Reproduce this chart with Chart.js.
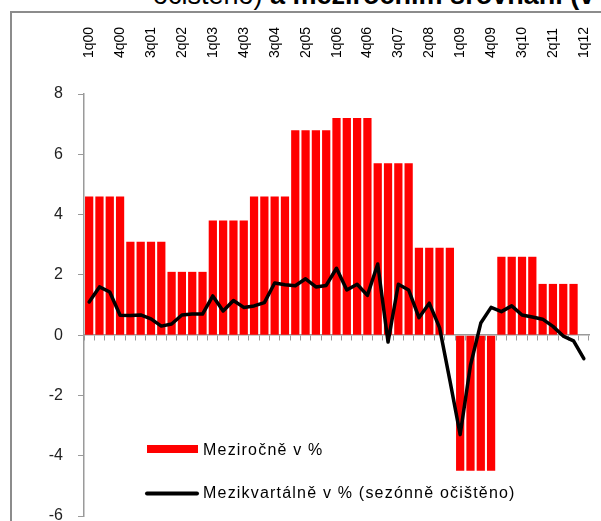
<!DOCTYPE html>
<html>
<head>
<meta charset="utf-8">
<script src="https://cdn.jsdelivr.net/npm/chart.js@4.4.1/dist/chart.umd.min.js"></script>
<style>
    html, body { margin: 0; padding: 0; background: #fff; overflow: hidden; width: 601px; height: 521px; }
    #ramecek { position: absolute; left: 10px; top: 11px; width: 700px; height: 600px; border: 2px solid #8c8c8c; }
    #nadpis { position: absolute; left: 153px; top: -18px; white-space: nowrap; font-family: "Liberation Sans", Arial, sans-serif; font-size: 27px; line-height: 27px; color: #000; }
    #nadpis b { font-weight: bold; }
    #graf { position: absolute; left: 0; top: 0; }
</style>
</head>
<body>
<div id="nadpis">očištěno) <b>a meziročním srovnání (v</b></div>
<div id="ramecek"></div>
<canvas id="graf" width="601" height="530"></canvas>
<script>
// ctvrtleti 1q00 .. 1q12
var ctvrtleti = [];
for (var rok = 0; rok <= 12; rok++) {
    for (var q = 1; q <= 4; q++) {
        if (rok == 12 && q > 1) break;
        ctvrtleti.push(q + 'q' + (rok < 10 ? '0' + rok : rok));
    }
}

// mezirocne v % (rocni hodnota u kazdeho ctvrtleti)
var mezirocne = [
    4.6, 4.6, 4.6, 4.6,
    3.1, 3.1, 3.1, 3.1,
    2.1, 2.1, 2.1, 2.1,
    3.8, 3.8, 3.8, 3.8,
    4.6, 4.6, 4.6, 4.6,
    6.8, 6.8, 6.8, 6.8,
    7.2, 7.2, 7.2, 7.2,
    5.7, 5.7, 5.7, 5.7,
    2.9, 2.9, 2.9, 2.9,
    -4.5, -4.5, -4.5, -4.5,
    2.6, 2.6, 2.6, 2.6,
    1.7, 1.7, 1.7, 1.7,
    null
];

// mezikvartalne v % (sezonne ocisteno)
var mezikvartalne = [
    1.1, 1.6, 1.43, 0.66,
    0.65, 0.67, 0.54, 0.3,
    0.37, 0.67, 0.7, 0.7,
    1.3, 0.8, 1.15, 0.92,
    0.97, 1.08, 1.73, 1.67,
    1.64, 1.87, 1.6, 1.65,
    2.22, 1.5, 1.69, 1.32,
    2.36, -0.23, 1.69, 1.5,
    0.58, 1.06, 0.25, -1.5,
    -3.3, -1.0, 0.4, 0.92,
    0.78, 0.97, 0.67, 0.6,
    0.53, 0.29, -0.03, -0.19,
    -0.78
];

var osaY = [-6, -4, -2, 0, 2, 4, 6, 8];
var popisky = ['Meziročně v %', 'Mezikvartálně v % (sezónně očištěno)'];

var pismo = '"Liberation Sans", Arial, sans-serif';
var seda = '#9a9a9a';

// osy nemaji pridavat vlastni okraje, plocha grafu se ridi jen layout.padding
function bezOkraju(scale) {
    scale.paddingLeft = 0;
    scale.paddingRight = 0;
    scale.paddingTop = 0;
    scale.paddingBottom = 0;
}

// legenda uvnitr grafu vlevo dole
var legendaPlugin = {
    id: 'legendaVnitrni',
    afterDraw: function (chart) {
        var ctx = chart.ctx;
        ctx.save();
        ctx.font = '16px ' + pismo;
        ctx.textBaseline = 'middle';
        ctx.textAlign = 'left';
        if ('letterSpacing' in ctx) ctx.letterSpacing = '1.2px';
        // cervena znacka
        ctx.fillStyle = '#ff0000';
        ctx.fillRect(147, 445, 51, 8);
        ctx.fillStyle = '#000';
        ctx.fillText(popisky[0], 203, 451);
        // cara
        ctx.strokeStyle = '#000';
        ctx.lineWidth = 4;
        ctx.lineCap = 'round';
        ctx.beginPath();
        ctx.moveTo(147, 493.5);
        ctx.lineTo(197, 493.5);
        ctx.stroke();
        ctx.fillText(popisky[1], 203, 494);
        ctx.restore();
    }
};

var ctx = document.getElementById('graf').getContext('2d');
var myChart = new Chart(ctx, {
    type: 'bar',
    data: {
        labels: ctvrtleti,
        datasets: [{
                type: 'line',
                label: popisky[1],
                data: mezikvartalne,
                borderColor: '#000',
                borderWidth: 3.5,
                pointRadius: 0,
                tension: 0,
                borderJoinStyle: 'round',
                borderCapStyle: 'round',
                order: 0
            }, {
                label: popisky[0],
                data: mezirocne,
                backgroundColor: '#ff0000',
                barPercentage: 0.8,
                categoryPercentage: 1,
                order: 1
            }]
    },
    options: {
        responsive: false,
        animation: false,
        layout: {padding: {left: 0, top: 0, right: 12, bottom: 14}},
        plugins: {
            legend: {display: false},
            tooltip: {enabled: false}
        },
        scales: {
            x: {
                position: 'top',
                offset: true,
                grid: {display: false, offset: true},
                border: {display: false},
                ticks: {
                    autoSkip: false,
                    maxRotation: 90,
                    minRotation: 90,
                    padding: 28,
                    labelOffset: 17,
                    color: '#000',
                    font: {family: pismo, size: 14},
                    callback: function (value, index) {
                        return index % 3 == 0 ? ctvrtleti[index] : '';
                    }
                },
                afterFit: function (scale) {
                    scale.height = 94;
                    bezOkraju(scale);
                }
            },
            x2: {
                type: 'category',
                position: {y: 0},
                offset: true,
                grid: {display: true, offset: true, drawOnChartArea: false, drawTicks: true, tickLength: 5, color: seda},
                border: {display: true, color: seda, width: 1.5},
                ticks: {display: false},
                afterFit: bezOkraju
            },
            y: {
                min: -6,
                max: 8,
                afterBuildTicks: function (scale) {
                    scale.ticks = osaY.map(function (v) { return {value: v}; });
                },
                grid: {display: true, drawOnChartArea: false, drawTicks: true, tickLength: 6, color: seda},
                border: {display: true, color: seda, width: 1.5},
                ticks: {
                    padding: 15,
                    color: '#222',
                    font: {family: pismo, size: 16}
                },
                afterFit: function (scale) {
                    scale.width = 84;
                    bezOkraju(scale);
                }
            }
        }
    },
    plugins: [legendaPlugin]
});
</script>
</body>
</html>
